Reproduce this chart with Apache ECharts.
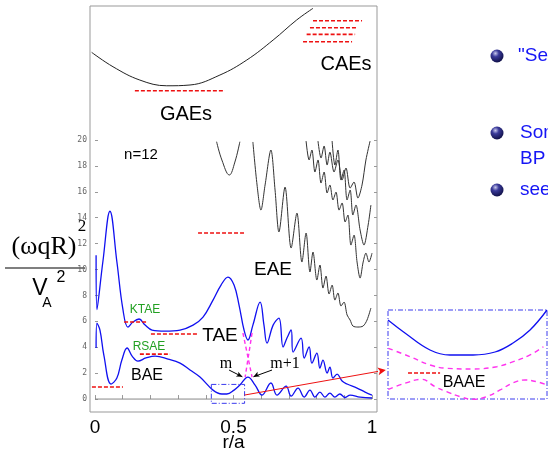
<!DOCTYPE html>
<html>
<head>
<meta charset="utf-8">
<script src="https://cdn.jsdelivr.net/npm/echarts@6/dist/echarts.min.js"></script>
<style>
  html, body { margin: 0; padding: 0; background: #fff; }
  #chart { width: 548px; height: 450px; }
</style>
</head>
<body>
<div id="chart"></div>
<script>
// axis ticks
const xTicks = [0, 0.1, 0.2, 0.3, 0.4, 0.5, 0.6, 0.7, 0.8, 0.9, 1];
const xLabels = [0, 0.5, 1];
const yTicks = [0, 2, 4, 6, 8, 10, 12, 14, 16, 18, 20];

// schematic upper continuum (GAE / CAE region), [r/a, value]
const upperCont = [[-0.012, 26.77], [0.065, 25.66], [0.162, 24.63], [0.259, 24.19], [0.343, 24.25],
  [0.451, 25.02], [0.548, 26.18], [0.643, 27.72], [0.728, 29.27], [0.787, 30.17]];
const gapGAE = [[0.144, 23.81], [0.469, 23.81]];
const gapCAE1 = [[0.787, 29.21], [0.964, 29.21]];
const gapCAE2 = [[0.776, 28.67], [0.949, 28.67]];
const gapCAE3 = [[0.764, 28.16], [0.939, 28.16]];
const gapCAE4 = [[0.751, 27.59], [0.928, 27.59]];

// ellipticity-induced continuum branches (black)
const eaeDip = [[0.439, 19.87], [0.458, 18.46], [0.485, 17.30], [0.505, 18.3], [0.523, 19.87]];
const eaeLow = [[0.570, 19.85], [0.585, 16.53], [0.599, 14.59], [0.614, 16.53], [0.635, 19.23], [0.650, 16.14],
  [0.664, 12.90], [0.686, 16.37], [0.708, 11.66], [0.729, 14.36], [0.747, 10.58], [0.762, 12.82],
  [0.776, 9.81], [0.787, 11.35], [0.801, 9.19], [0.812, 10.35], [0.823, 8.57], [0.834, 9.50],
  [0.845, 8.11], [0.856, 8.80], [0.866, 7.64], [0.877, 8.19], [0.888, 7.18], [0.899, 7.49],
  [0.910, 6.49], [0.921, 6.10], [0.931, 5.64], [0.949, 5.56], [0.968, 5.64], [0.982, 6.10], [0.996, 7.03]];
const eaeMid = [[0.762, 19.92], [0.773, 18.46], [0.783, 19.23], [0.794, 17.53], [0.805, 18.46], [0.816, 16.68],
  [0.827, 17.53], [0.838, 15.91], [0.848, 16.53], [0.859, 15.37], [0.870, 15.98], [0.881, 14.59],
  [0.892, 15.14], [0.903, 13.67], [0.913, 14.21], [0.924, 11.89], [0.935, 12.66], [0.946, 10.58],
  [0.957, 9.34], [0.968, 10.58], [0.978, 11.27], [0.989, 10.58], [1.0, 11.27]];
const eaeHigh = [[0.856, 19.92], [0.866, 18.07], [0.877, 19.23], [0.888, 16.91], [0.899, 17.68], [0.910, 15.37],
  [0.921, 16.14], [0.931, 14.21], [0.942, 14.98], [0.957, 13.05], [0.971, 11.89], [0.986, 13.44], [0.996, 14.98]];
const eaeTop = [[0.805, 19.92], [0.816, 18.61], [0.827, 19.54], [0.838, 18.07], [0.848, 19.07], [0.863, 17.53],
  [0.877, 18.46], [0.892, 16.91], [0.906, 17.84], [0.921, 16.29], [0.935, 16.76], [0.949, 15.52],
  [0.964, 16.53], [0.978, 18.46], [0.993, 19.92]];

// shear Alfven continuum (blue)
const taeUpper = [[0.004, 11.1], [0.007, 6.9], [0.029, 10.7], [0.054, 14.5], [0.079, 10.6], [0.101, 6.9],
  [0.119, 5.56], [0.137, 5.95], [0.159, 6.18], [0.181, 5.71], [0.206, 5.33], [0.253, 5.25], [0.307, 5.33],
  [0.354, 5.71], [0.390, 6.33], [0.426, 7.64], [0.455, 8.80], [0.480, 9.42], [0.502, 8.80], [0.520, 7.26],
  [0.538, 5.33], [0.552, 4.56], [0.570, 5.71], [0.596, 7.49], [0.610, 5.71], [0.621, 4.32], [0.643, 5.71],
  [0.664, 6.25], [0.679, 4.02], [0.693, 4.71], [0.708, 5.33], [0.715, 3.63], [0.744, 4.71], [0.755, 3.17],
  [0.773, 4.02], [0.783, 2.78], [0.801, 3.55], [0.812, 2.39], [0.823, 3.01], [0.838, 2.01], [0.848, 2.47],
  [0.859, 1.62], [0.874, 1.93], [0.892, 1.39], [0.910, 1.16], [0.946, 0.85], [0.975, 0.54], [1.0, 0.31]];
const baeLower = [[0.004, 3.94], [0.007, 5.87], [0.018, 5.33], [0.032, 3.40], [0.058, 1.16], [0.079, 1.62],
  [0.097, 3.01], [0.116, 3.94], [0.134, 3.32], [0.155, 2.93], [0.184, 3.17], [0.217, 3.32], [0.264, 3.09],
  [0.307, 2.78], [0.343, 2.24], [0.379, 1.70], [0.426, 0.69], [0.458, 0.39], [0.476, 0.39], [0.502, 0.69],
  [0.523, 1.08], [0.552, 1.70], [0.578, 1.08], [0.603, 0.31], [0.635, 1.24], [0.657, 0.31], [0.690, 1.00],
  [0.708, 0.23], [0.733, 0.85], [0.755, 0.15], [0.776, 0.69], [0.794, 0.15], [0.812, 0.54], [0.830, 0.15],
  [0.848, 0.46], [0.866, 0.15], [0.884, 0.39], [0.903, 0.12], [0.921, 0.31], [0.957, 0.15], [1.0, 0.08]];
const zeroLine = [[0, 0], [1, 0]];

// uncoupled m, m+1 branches (magenta)
const branchM = [[0.534, 5.1], [0.567, 1.7]];
const branchM1 = [[0.567, 5.1], [0.542, 1.7]];

// gap frequencies (red dashes)
const gapBAE = [[-0.011, 0.93], [0.101, 0.93]];
const gapKTAE = [[0.105, 5.95], [0.19, 5.95]];
const gapTAE = [[0.202, 5.02], [0.372, 5.02]];
const gapRSAE = [[0.162, 3.47], [0.271, 3.47]];
const gapEAE = [[0.372, 12.82], [0.545, 12.82]];

// zoom box and pointers
const zoomBox = [[0.42, 1.13], [0.54, 1.13], [0.54, -0.33], [0.42, -0.33], [0.42, 1.13]];
const zoomArrow = [[0.54, 0.31], [1.05, 2.24]];
const arrowM = [[0.484, 2.24], [0.532, 1.72]];
const arrowM1 = [[0.639, 2.24], [0.572, 1.72]];

// inset (zoom of the BAE gap)
const insetBlue = [[0.420, 0.966], [0.4328, 0.753], [0.4517, 0.474], [0.4668, 0.392], [0.4842, 0.392],
  [0.5008, 0.441], [0.5144, 0.589], [0.5272, 0.802], [0.540, 1.13]];
const insetUpper = [[0.4202, 0.502], [0.4366, 0.364], [0.4517, 0.228], [0.4643, 0.174], [0.4844, 0.162],
  [0.5021, 0.2], [0.5146, 0.282], [0.5272, 0.392], [0.5373, 0.528]];
const insetLower = [[0.4202, -0.171], [0.4328, -0.072], [0.4454, -0.007], [0.4555, -0.128], [0.4643, -0.21],
  [0.4744, -0.292], [0.4844, -0.335], [0.4945, -0.292], [0.5046, -0.182], [0.5146, -0.062],
  [0.5234, -0.018], [0.5323, -0.046], [0.5398, -0.1]];
const gapBAAE = [[0.4351, 0.097], [0.4593, 0.097]];

const SANS = '"Liberation Sans", Arial, sans-serif';
const SERIF = '"Liberation Serif", "Times New Roman", serif';
const BLUE = '#1010f0';
const RED = '#ee1111';
const MAG = '#ff33ee';

function curve(data, color, width, opts) {
  opts = opts || {};
  return {
    type: 'line', data: data, symbol: 'none', silent: true, clip: false,
    xAxisIndex: opts.inset ? 1 : 0, yAxisIndex: opts.inset ? 2 : 0,
    smooth: opts.smooth === undefined ? 0.4 : opts.smooth,
    lineStyle: { color: color, width: width, type: opts.type || 'solid' }
  };
}
function dashed(data, color, inset) {
  return curve(data, color, 1.6, { smooth: false, type: [4, 2], inset: inset });
}
// straight line with an arrow head at its end; angle is the head's rotation in degrees
function pointer(data, color, angle, size) {
  return {
    type: 'line', clip: false, silent: true, smooth: false,
    data: [{ value: data[0], symbol: 'none' },
      { value: data[1], symbol: 'arrow', symbolSize: size, symbolRotate: angle }],
    itemStyle: { color: color },
    lineStyle: { color: color, width: 1 }
  };
}
function txt(text, x, y, font, fill) {
  return { type: 'text', x: x, y: y, silent: true,
    style: { text: text, font: font, fill: fill || '#000', align: 'center', verticalAlign: 'middle' } };
}
function bullet(x, y) {
  return { type: 'circle', shape: { cx: x, cy: y, r: 6.5 }, silent: true,
    style: { fill: new echarts.graphic.RadialGradient(0.38, 0.3, 0.75, [
      { offset: 0, color: '#c8c8ec' }, { offset: 0.35, color: '#3a3a9a' }, { offset: 1, color: '#0c0c40' }]) } };
}

const chart = echarts.init(document.getElementById('chart'));
chart.setOption({
  animation: false,
  backgroundColor: '#fff',
  grid: [
    { left: 90, top: 6, width: 287, height: 406, show: true, borderColor: '#999', borderWidth: 1,
      outerBoundsMode: 'none', containLabel: false },
    { left: 388, top: 310, width: 159, height: 89, show: true, borderColor: '#3a3aee', borderWidth: 1,
      borderType: [5, 2, 1, 2], outerBoundsMode: 'none', containLabel: false }
  ],
  xAxis: [
    { type: 'value', gridIndex: 0, min: -0.018, max: 1.018, splitLine: { show: false },
      axisLine: { show: false },
      axisTick: { show: true, inside: true, length: 4, customValues: xTicks, lineStyle: { color: '#999' } },
      axisLabel: { customValues: xLabels, fontSize: 19, color: '#000', margin: 6, fontFamily: SANS },
      name: 'r/a', nameLocation: 'middle', nameGap: 21, nameMoveOverlap: false,
      nameTextStyle: { fontSize: 19, color: '#000', fontFamily: SANS } },
    { type: 'value', gridIndex: 1, min: 0.42, max: 0.54, show: false }
  ],
  yAxis: [
    { type: 'value', gridIndex: 0, min: -1, max: 30.35, splitLine: { show: false },
      axisLine: { show: false },
      axisTick: { show: true, inside: true, length: 3, customValues: yTicks, lineStyle: { color: '#999' } },
      axisLabel: { customValues: yTicks, fontSize: 8, color: '#666', margin: 3, fontFamily: '"DejaVu Sans Mono", monospace' } },
    { type: 'value', gridIndex: 0, position: 'right', min: -1, max: 30.35, splitLine: { show: false },
      axisLine: { show: false }, axisLabel: { show: false },
      axisTick: { show: true, inside: true, length: 3, customValues: yTicks, lineStyle: { color: '#999' } } },
    { type: 'value', gridIndex: 1, min: -0.33, max: 1.13, show: false }
  ],
  series: [
    curve(zeroLine, '#888', 1, { smooth: false }),
    curve(upperCont, '#222', 1),
    dashed(gapGAE, RED), dashed(gapCAE1, RED), dashed(gapCAE2, RED), dashed(gapCAE3, RED), dashed(gapCAE4, RED),
    curve(eaeDip, '#333', 1),
    curve(eaeLow, '#333', 1, { smooth: 0.3 }),
    curve(eaeMid, '#333', 1, { smooth: 0.3 }),
    curve(eaeHigh, '#333', 1, { smooth: 0.3 }),
    curve(eaeTop, '#333', 1, { smooth: 0.3 }),
    curve(taeUpper, BLUE, 1.3),
    curve(baeLower, BLUE, 1.3),
    curve(branchM, MAG, 1.4, { smooth: false, type: [4, 3] }),
    curve(branchM1, MAG, 1.4, { smooth: false, type: [4, 3] }),
    dashed(gapBAE, RED), dashed(gapKTAE, RED), dashed(gapTAE, RED), dashed(gapRSAE, RED), dashed(gapEAE, RED),
    curve(zoomBox, '#3a3aee', 1, { smooth: false, type: [5, 2, 1, 2] }),
    pointer(zoomArrow, RED, -80, [6, 8]),
    pointer(arrowM, '#000', -117, [4, 6]),
    pointer(arrowM1, '#000', 117, [4, 6]),
    curve(insetBlue, BLUE, 1.3, { inset: true }),
    curve(insetUpper, MAG, 1.4, { inset: true, type: [5, 4] }),
    curve(insetLower, MAG, 1.4, { inset: true, type: [5, 4] }),
    dashed(gapBAAE, RED, true)
  ],
  graphic: [
    txt('GAEs', 186, 114, '20px ' + SANS),
    txt('CAEs', 346, 64, '20px ' + SANS),
    txt('n=12', 141, 155, '15px ' + SANS),
    txt('EAE', 273, 270, '19px ' + SANS),
    txt('KTAE', 145, 310, '12px ' + SANS, '#22a022'),
    txt('RSAE', 149, 347, '12px ' + SANS, '#22a022'),
    txt('TAE', 220, 336, '19px ' + SANS),
    txt('BAE', 147, 376, '16px ' + SANS),
    txt('m', 226, 364, '16px ' + SERIF),
    txt('m+1', 285, 364, '16px ' + SERIF),
    txt('BAAE', 464, 383, '16px ' + SANS),
    // y-axis title as a fraction
    txt('(\u03c9qR)', 44, 247, '26px ' + SERIF),
    txt('2', 82, 227, '17px ' + SERIF),
    { type: 'line', silent: true, shape: { x1: 5, y1: 268, x2: 85, y2: 268 }, style: { stroke: '#000', lineWidth: 1.2 } },
    txt('V', 40, 289, '23px ' + SANS),
    txt('A', 47, 303, '14px ' + SANS),
    txt('2', 61, 278, '16px ' + SANS),
    // slide bullets cut off at the right edge
    bullet(497, 56), bullet(497, 133), bullet(497, 190),
    { type: 'text', x: 518, y: 56, silent: true, style: { text: '"Se', font: '19px ' + SANS, fill: '#1515f5', verticalAlign: 'middle' } },
    { type: 'text', x: 520, y: 133, silent: true, style: { text: 'Some', font: '19px ' + SANS, fill: '#1515f5', verticalAlign: 'middle' } },
    { type: 'text', x: 520, y: 159, silent: true, style: { text: 'BP', font: '19px ' + SANS, fill: '#1515f5', verticalAlign: 'middle' } },
    { type: 'text', x: 520, y: 190, silent: true, style: { text: 'see', font: '19px ' + SANS, fill: '#1515f5', verticalAlign: 'middle' } }
  ]
});
</script>
</body>
</html>
